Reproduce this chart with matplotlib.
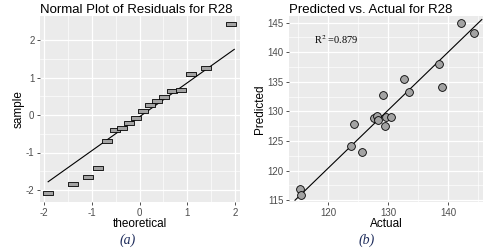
import numpy as np
import matplotlib.pyplot as plt

# residual QQ data
theoretical = [-1.91, -1.38, -1.08, -0.86, -0.67, -0.51, -0.36, -0.21, -0.07,
               0.07, 0.21, 0.36, 0.51, 0.67, 0.86, 1.08, 1.38, 1.91]
sample = [-2.07, -1.83, -1.64, -1.40, -0.68, -0.40, -0.34, -0.22, -0.07,
          0.10, 0.26, 0.37, 0.49, 0.65, 0.67, 1.09, 1.25, 2.42]
qq_line_x = [-1.91, 1.98]
qq_line_y = [-1.78, 1.75]

# predicted vs actual
actual = [142.2, 144.3, 138.55, 138.95, 132.7, 133.55, 129.2, 124.4, 127.7,
          128.2, 128.4, 129.6, 130.55, 129.55, 123.8, 125.6, 115.3, 115.5]
predicted = [144.9, 143.2, 138.0, 134.1, 135.4, 133.3, 132.7, 127.9, 128.9,
             129.2, 128.5, 129.05, 129.05, 127.5, 124.2, 123.1, 116.9, 115.8]
fit_x = [114.5, 145.6]
fit_y = [115.0, 145.5]
r2_label = "R$^2$ =0.879"

plt.rcParams['font.family'] = ['Liberation Sans', 'DejaVu Sans']
plt.rcParams['axes.unicode_minus'] = False

bg = '#EBEBEB'
tick_col = '#4D4D4D'

fig = plt.figure(figsize=(4.88, 2.48), dpi=100)
W, H = 488, 248

def ggstyle(ax, xmajor, ymajor, xminor, yminor):
    ax.set_facecolor(bg)
    for s in ax.spines.values():
        s.set_visible(False)
    ax.set_xticks(xmajor)
    ax.set_yticks(ymajor)
    ax.set_xticks(xminor, minor=True)
    ax.set_yticks(yminor, minor=True)
    ax.grid(True, which='major', color='white', lw=0.9)
    ax.grid(True, which='minor', color='white', lw=0.45)
    ax.tick_params(which='major', length=2.5, width=0.6, color='#333333',
                   labelsize=7, labelcolor=tick_col, pad=1.5)
    ax.tick_params(which='minor', length=0)
    ax.set_axisbelow(True)

# left panel
ax1 = fig.add_axes([40 / W, 1 - 202 / H, 200 / W, 186 / H])
ggstyle(ax1, [-2, -1, 0, 1, 2], [-2, -1, 0, 1, 2],
        [-1.5, -0.5, 0.5, 1.5], [-1.5, -0.5, 0.5, 1.5])
ax1.set_xlim(-2.08, 2.1)
ax1.set_ylim(-2.32, 2.64)
ax1.plot(qq_line_x, qq_line_y, color='black', lw=0.8, zorder=2)
rect = [(-1, -0.38), (1, -0.38), (1, 0.38), (-1, 0.38), (-1, -0.38)]
ax1.plot(theoretical, sample, ls='none', marker=rect, ms=7.4,
         mfc='#A3A3A3', mec='black', mew=0.6, zorder=3)
ax1.set_xlabel('theoretical', fontsize=8.5, labelpad=0)
ax1.set_ylabel('sample', fontsize=8.5, labelpad=1)
ax1.set_title('Normal Plot of Residuals for R28', fontsize=9.5, loc='left', pad=2.5)

# right panel
ax2 = fig.add_axes([289 / W, 1 - 202 / H, 194 / W, 186 / H])
ggstyle(ax2, [120, 130, 140], [115, 120, 125, 130, 135, 140, 145],
        [115, 125, 135, 145], [117.5, 122.5, 127.5, 132.5, 137.5, 142.5])
ax2.set_xlim(113.5, 145.8)
ax2.set_ylim(114.7, 146.1)
ax2.plot(fit_x, fit_y, color='black', lw=0.8, zorder=2)
ax2.plot(actual, predicted, ls='none', marker='o', ms=5.6,
         mfc='#A3A3A3', mec='black', mew=0.6, zorder=3)
ax2.text(117.6, 142.2, r2_label, fontsize=7.5, va='center', ha='left',
         family='Liberation Serif', math_fontfamily='stix')
ax2.set_xlabel('Actual', fontsize=8.5, labelpad=0)
ax2.set_ylabel('Predicted', fontsize=8.5, labelpad=1)
ax2.set_title('Predicted vs. Actual for R28', fontsize=9.5, loc='left', pad=2.5)

# sub captions
fig.text(128 / W, 1 - 240 / H, '(a)', fontsize=10, style='italic',
         family='Liberation Serif', color='#1F2D5C', ha='center', va='center')
fig.text(367 / W, 1 - 240 / H, '(b)', fontsize=10, style='italic',
         family='Liberation Serif', color='#1F2D5C', ha='center', va='center')

fig.savefig('out.png', dpi=100, facecolor='white')
